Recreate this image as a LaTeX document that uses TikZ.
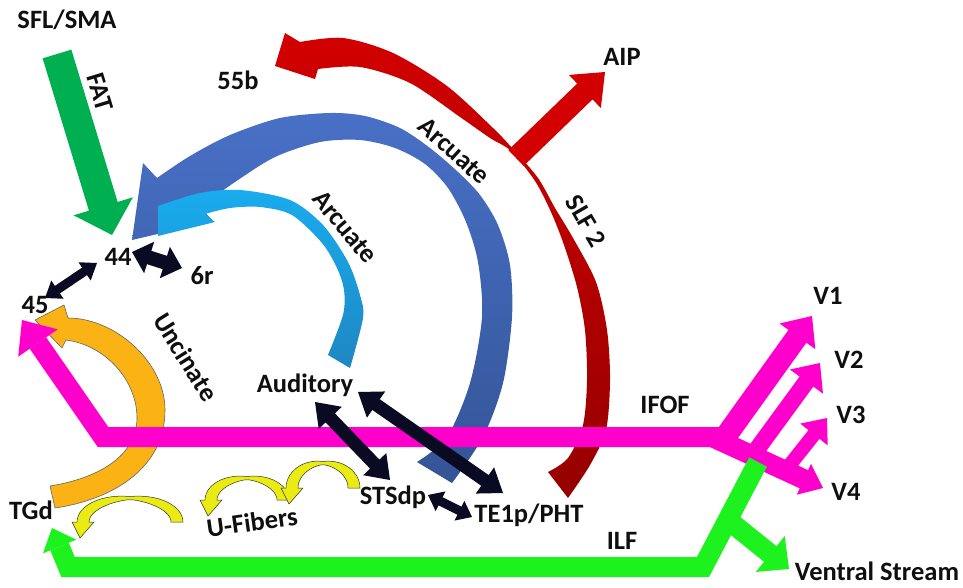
\documentclass[tikz,border=0pt]{standalone}
\usepackage{fontspec}
\setmainfont{Carlito}
\usetikzlibrary{calc}
\definecolor{txt}{RGB}{15,15,15}
\definecolor{fatgreen}{RGB}{0,176,80}
\definecolor{blueA}{RGB}{72,112,198}
\definecolor{blueB}{RGB}{52,84,150}
\definecolor{cyanA}{RGB}{25,172,238}
\definecolor{cyanB}{RGB}{30,135,195}
\definecolor{redA}{RGB}{210,0,0}
\definecolor{redB}{RGB}{150,0,0}
\definecolor{mag}{RGB}{255,0,204}
\definecolor{lime}{RGB}{30,242,30}
\definecolor{orng}{RGB}{250,178,20}
\definecolor{yel}{RGB}{235,235,20}
\definecolor{navy}{RGB}{10,10,35}
% single straight arrow: style, start, tip, shaft width, head length, head width
\newcommand\sarrow[6]{%
  \coordinate (hc) at ($(#3)!#5!(#2)$);
  \fill[#1] ($(#2)!#4/2!90:(#3)$) -- ($(hc)!#4/2!90:(#3)$) -- ($(hc)!#6/2!90:(#3)$) -- (#3)
    -- ($(hc)!#6/2!-90:(#3)$) -- ($(hc)!#4/2!-90:(#3)$) -- ($(#2)!#4/2!-90:(#3)$) -- cycle;}
% double straight arrow
\newcommand\darrow[6]{%
  \coordinate (ha) at ($(#2)!#5!(#3)$);
  \coordinate (hb) at ($(#3)!#5!(#2)$);
  \fill[#1] (#2) -- ($(ha)!#6/2!-90:(#3)$) -- ($(ha)!#4/2!-90:(#3)$) -- ($(hb)!#4/2!90:(#2)$)
    -- ($(hb)!#6/2!90:(#2)$) -- (#3) -- ($(hb)!#6/2!-90:(#2)$) -- ($(hb)!#4/2!-90:(#2)$)
    -- ($(ha)!#4/2!90:(#3)$) -- ($(ha)!#6/2!90:(#3)$) -- cycle;}
% u-fiber: cx, cy, rx, ry
\newcommand\ufib[4]{%
  \filldraw[fill=yel, draw=black!80, line width=0.5pt]
    plot[domain=0:180, samples=30] ({#1+(#3+1.5+4.5*abs(cos(\x)))*cos(\x)}, {#2-(#4+1.5+4.5*abs(cos(\x)))*sin(\x)})
    -- ({#1-#3-11},{#2}) -- ({#1-#3-3},{#2+16}) -- ({#1-#3+11},{#2})
    -- plot[domain=180:0, samples=30] ({#1+(#3-1.5-4.5*abs(cos(\x)))*cos(\x)}, {#2-(#4-1.5-4.5*abs(cos(\x)))*sin(\x)})
    -- cycle;}
\begin{document}
\begin{tikzpicture}[x=1pt,y=-1pt,
  lbl/.style={font=\bfseries\fontsize{26.5}{30}\selectfont, text=txt, inner sep=0pt},
  magline/.style={draw=mag, line width=20pt, line join=miter, line cap=butt},
  limeline/.style={draw=lime, line width=20pt, line join=miter, line cap=butt}]
\useasboundingbox (0,0) rectangle (963,587);
\fill[white] (0,0) rectangle (963,587);

% ---- SLF 2 (red) ----
\shade[top color=redA, bottom color=redB]
  (275,66) -- (315,79) -- (318,69)
  -- plot[smooth] coordinates {(318,69) (360,67) (410,83) (460,117) (490,138) (511,151) (535,181) (551,212) (564,245) (577,287) (585,330) (587,380) (583,425) (568,458) (548,472)}
  -- (568,498)
  -- plot[smooth] coordinates {(568,498) (590,465) (606,430) (610,380) (607,330) (596,282) (573,238) (555,208) (538,178) (513,149) (493,128) (447,86) (393,53) (343,38) (300,42)}
  -- (285,33) -- cycle;
\coordinate (aipS) at (516,158);
\coordinate (aipT) at (605,72);
\sarrow{redA}{aipS}{aipT}{22pt}{28pt}{46pt}

% ---- Arcuate (dark blue) ----
\shade[top color=blueA, bottom color=blueB]
  (132,240) -- (213,221) -- (200,207)
  -- plot[smooth] coordinates {(200,207) (235,182) (275,157) (320,142) (360,140) (395,148) (425,164) (448,188) (466,222) (478,262) (482,317) (470,383) (447,437) (417,462)}
  -- (452,483)
  -- plot[smooth] coordinates {(452,483) (483,437) (503,383) (512,317) (510,265) (498,225) (480,195) (458,172) (430,148) (400,128) (365,116) (330,113) (280,118) (230,135) (190,156) (157,178)}
  -- (143,163) -- cycle;

% ---- Arcuate (light blue) ----
\shade[top color=cyanA, bottom color=cyanB]
  (158,236) -- (158,206)
  -- plot[smooth] coordinates {(158,206) (200,193) (240,190) (290,200) (323,225) (348,262) (360,295) (363,318) (350,368)}
  -- (328,355)
  -- plot[smooth] coordinates {(328,355) (343,315) (344,290) (337,268) (322,243) (292,215) (260,207) (230,208) (205,214)}
  -- (215,222) -- cycle;

% ---- FAT (green) ----
\coordinate (fatS) at (57,54);
\coordinate (fatT) at (112,235);
\sarrow{fatgreen}{fatS}{fatT}{30pt}{30pt}{62pt}

% ---- Uncinate (orange) ----
\filldraw[fill=orng, draw=black!60, line width=0.6pt]
  (35,320) -- (64,305) -- (68,318)
  .. controls (115,318) and (165,362) .. (165,410)
  .. controls (165,470) and (110,500) .. (55,508)
  -- (50,486)
  .. controls (100,478) and (137,455) .. (137,418)
  .. controls (137,380) and (105,345) .. (66,340)
  -- (62,348) -- cycle;

% ---- IFOF (magenta) ----
\coordinate (me) at (722,437);
\coordinate (mc) at (103,437);
\coordinate (mt) at (22,320);
\coordinate (mh) at ($(mt)!28pt!(mc)$);
\draw[magline] (me) -- (mc) -- (mh);
\fill[mag] ($(mh)!24pt!90:(mt)$) -- (mt) -- ($(mh)!24pt!-90:(mt)$) -- cycle;
\coordinate (v1s) at (718,447);  \coordinate (v1t) at (812,316);
\coordinate (v4s) at (712,437);  \coordinate (v4t) at (823,488);
\coordinate (v2s) at (752,456);  \coordinate (v2t) at (820,363);
\coordinate (v3s) at (785,471);  \coordinate (v3t) at (827,418);
\sarrow{mag}{v4s}{v4t}{20pt}{21pt}{34pt}
\sarrow{mag}{v1s}{v1t}{22pt}{25pt}{44pt}
\sarrow{mag}{v2s}{v2t}{17pt}{23pt}{41pt}
\sarrow{mag}{v3s}{v3t}{14pt}{21pt}{35pt}

% ---- ILF (green) ----
\coordinate (ge) at (758,462);
\coordinate (gc2) at (703,567);
\coordinate (gc1) at (68,567);
\coordinate (gt) at (52,528);
\coordinate (gh) at ($(gt)!20pt!(gc1)$);
\draw[limeline] (ge) -- (gc2) -- (gc1) -- (gh);
\fill[lime] ($(gh)!18pt!90:(gt)$) -- (gt) -- ($(gh)!18pt!-90:(gt)$) -- cycle;
\coordinate (vss) at (728,520);
\coordinate (vst) at (789,569);
\sarrow{lime}{vss}{vst}{20pt}{24pt}{46pt}

% ---- U-fibers ----
\ufib{130}{522}{47}{24}
\ufib{247}{500}{36}{22}
\ufib{323}{488}{31}{25}

% ---- black double arrows ----
\coordinate (a45) at (45,298);   \coordinate (a44) at (97,263);
\darrow{navy}{a45}{a44}{9pt}{15pt}{22pt}
\coordinate (b44) at (132,252);  \coordinate (b6r) at (182,268);
\darrow{navy}{b44}{b6r}{14pt}{18pt}{33pt}
\coordinate (c1) at (315,402);   \coordinate (c2) at (390,480);
\darrow{navy}{c1}{c2}{13pt}{22pt}{32pt}
\coordinate (d1) at (358,392);   \coordinate (d2) at (503,493);
\darrow{navy}{d1}{d2}{13pt}{22pt}{32pt}
\coordinate (e1) at (428,495);   \coordinate (e2) at (472,517);
\darrow{navy}{e1}{e2}{9pt}{14pt}{22pt}

% ---- labels ----
\node[lbl] (sfl) at (67,20) {SFL/SMA};
\node[lbl, rotate=-73] (fat) at (100,92) {FAT};
\node[lbl] (n55b) at (238,80) {55b};
\node[lbl] (aip) at (622,57) {AIP};
\node[lbl, rotate=-42] (arcA) at (454,151) {Arcuate};
\node[lbl, rotate=-50] (arcB) at (345,227) {Arcuate};
\node[lbl, rotate=-60] (slf) at (586,221) {SLF 2};
\node[lbl] (n44) at (118,257) {44};
\node[lbl] (n6r) at (202,276) {6r};
\node[lbl] (n45) at (35,305) {45};
\node[lbl, rotate=-58] (unc) at (186,357) {Uncinate};
\node[lbl] (aud) at (305,385) {Auditory};
\node[lbl] (sts) at (393,497) {STSdp};
\node[lbl] (te1) at (529,515) {TE1p/PHT};
\node[lbl] (tgd) at (31,510) {TGd};
\node[lbl, rotate=8] (ufb) at (252,522) {U-Fibers};
\node[lbl] (ifof) at (665,405) {IFOF};
\node[lbl] (ilf) at (622,541) {ILF};
\node[lbl] (nv1) at (828,296) {V1};
\node[lbl] (nv2) at (849,360) {V2};
\node[lbl] (nv3) at (851,415) {V3};
\node[lbl] (nv4) at (846,492) {V4};
\node[lbl] (vent) at (877,571) {Ventral Stream};
\end{tikzpicture}
\end{document}
